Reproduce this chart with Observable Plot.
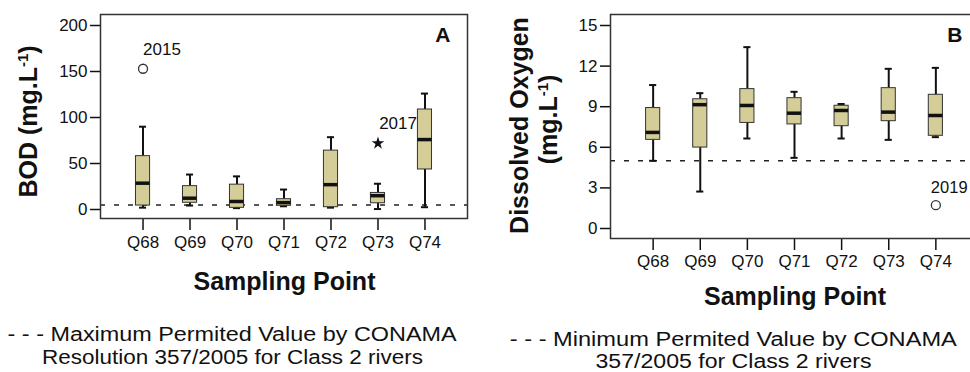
<!DOCTYPE html>
<html><head><meta charset="utf-8">
<script src="https://cdn.jsdelivr.net/npm/d3@7"></script>
<script src="https://cdn.jsdelivr.net/npm/@observablehq/plot@0.6"></script>
<style>
html,body{margin:0;padding:0;background:#fff;overflow:hidden;width:970px;height:372px;}
#root{position:relative;width:970px;height:372px;overflow:hidden;font-family:"Liberation Sans",Arial,sans-serif;color:#111;}
.abs{position:absolute;white-space:nowrap;}
.title{font-weight:bold;font-size:25px;line-height:25px;text-align:center;}
.rot{transform:rotate(-90deg);transform-origin:center center;}
.leg{font-size:20px;line-height:20px;text-align:center;}
.leg span{display:inline-block;transform-origin:center center;}
sup{font-size:0.6em;line-height:0;vertical-align:0.6em;}
</style></head><body><div id="root"></div>
<script>
// ---- data ----
const sites = ["Q68", "Q69", "Q70", "Q71", "Q72", "Q73", "Q74"];

// Panel A: BOD (mg/L)
const bodMin = [2, 4.3, 1.5, 3.5, 2, 0.5, 2.5];
const bodQ1  = [4.3, 7.3, 1.8, 4, 2.5, 6.8, 43.5];
const bodMed = [28.6, 12.3, 8.7, 7.5, 27, 15, 76];
const bodQ3  = [58, 25.4, 27, 11.2, 64, 18, 108.7];
const bodMax = [90, 38, 36, 21.7, 78.6, 28, 126];
const bodTicks = [0, 50, 100, 150, 200];
const bodLimit = 5;
const bodOutSite = ["Q68", "Q73"];
const bodOutValue = [153, 72];
const bodOutLabel = ["2015", "2017"];

// Panel B: Dissolved oxygen (mg/L)
const doMin = [5.0, 2.73, 6.65, 5.22, 6.65, 6.55, 6.75];
const doQ1  = [6.55, 5.98, 7.8, 7.69, 7.56, 7.93, 6.85];
const doMed = [7.1, 9.15, 9.09, 8.52, 8.72, 8.6, 8.35];
const doQ3  = [8.9, 9.55, 10.3, 9.63, 9.07, 10.37, 9.88];
const doMax = [10.6, 10.0, 13.4, 10.1, 9.2, 11.8, 11.87];
const doTicks = [0, 3, 6, 9, 12, 15];
const doLimit = 5;
const doOutSite = ["Q74"];
const doOutValue = [1.72];
const doOutLabel = ["2019"];

// ---- build tables ----
const bodRows = sites.map((s, i) => ({site: s, min: bodMin[i], q1: bodQ1[i], med: bodMed[i], q3: bodQ3[i], max: bodMax[i]}));
const doRows = sites.map((s, i) => ({site: s, min: doMin[i], q1: doQ1[i], med: doMed[i], q3: doQ3[i], max: doMax[i]}));
const bodOut = bodOutSite.map((s, i) => ({site: s, value: bodOutValue[i], label: bodOutLabel[i]}));
const doOut = doOutSite.map((s, i) => ({site: s, value: doOutValue[i], label: doOutLabel[i]}));

const FONT = '"Liberation Sans", Arial, sans-serif';
const BOX = "#d5cd98";

function boxMarks(rows) {
  return [
    Plot.ruleX(rows, {x: "site", y1: "min", y2: "q1", stroke: "#111", strokeWidth: 2}),
    Plot.ruleX(rows, {x: "site", y1: "q3", y2: "max", stroke: "#111", strokeWidth: 2}),
    Plot.tickY(rows, {x: "site", y: "min", stroke: "#111", strokeWidth: 2, inset: 3.5}),
    Plot.tickY(rows, {x: "site", y: "max", stroke: "#111", strokeWidth: 2, inset: 3.5}),
    Plot.barY(rows, {x: "site", y1: "q1", y2: "q3", fill: BOX, stroke: "#333", strokeWidth: 1}),
    Plot.tickY(rows, {x: "site", y: "med", stroke: "#111", strokeWidth: 3.5})
  ];
}

const xOpts = {type: "band", domain: sites, paddingInner: 0.70, paddingOuter: 0.755, round: false, label: null};

const plotA = Plot.plot({
  width: 490, height: 260,
  marginLeft: 100, marginRight: 23, marginTop: 14, marginBottom: 42,
  style: {fontFamily: FONT, fontSize: "17px", color: "#111", background: "transparent", overflow: "visible"},
  x: xOpts,
  y: {domain: [-9.78, 211.96], label: null},
  marks: [
    Plot.axisY({ticks: bodTicks, tickSize: 10, tickPadding: 3, label: null, strokeWidth: 1.5}),
    Plot.axisX({tickSize: 12, tickPadding: 5, label: null, strokeWidth: 1.5}),
    Plot.ruleY([bodLimit], {stroke: "#222", strokeWidth: 1.5, strokeDasharray: "5,9"}),
    ...boxMarks(bodRows),
    Plot.dot(bodOut.filter(d => d.label === "2015"), {x: "site", y: "value", r: 4.5, stroke: "#333", strokeWidth: 1.3, fill: "white"}),
    Plot.dot(bodOut.filter(d => d.label === "2017"), {x: "site", y: "value", r: 4, symbol: "star", fill: "#111", stroke: "none"}),
    Plot.text(bodOut.filter(d => d.label === "2015"), {x: "site", y: "value", text: "label", textAnchor: "start", dx: 0, dy: -19, fontSize: 17, fill: "#111"}),
    Plot.text(bodOut.filter(d => d.label === "2017"), {x: "site", y: "value", text: "label", textAnchor: "end", dx: 39, dy: -20, fontSize: 17, fill: "#111"}),
    Plot.text(["A"], {frameAnchor: "top-right", dx: -17, dy: 13, fontSize: 21, fontWeight: "bold", fill: "#111"}),
    Plot.frame({stroke: "#333", strokeWidth: 1.5})
  ]
});

const plotB = Plot.plot({
  width: 511, height: 270,
  marginLeft: 120, marginRight: 23, marginTop: 14, marginBottom: 32,
  style: {fontFamily: FONT, fontSize: "17px", color: "#111", background: "transparent", overflow: "visible"},
  x: xOpts,
  y: {domain: [-0.739, 15.813], label: null},
  marks: [
    Plot.axisY({ticks: doTicks, tickSize: 10, tickPadding: 3, label: null, strokeWidth: 1.5}),
    Plot.axisX({tickSize: 12, tickPadding: 4, label: null, strokeWidth: 1.5}),
    Plot.ruleY([doLimit], {stroke: "#222", strokeWidth: 1.5, strokeDasharray: "5,9"}),
    ...boxMarks(doRows),
    Plot.dot(doOut, {x: "site", y: "value", r: 4.5, stroke: "#333", strokeWidth: 1.3, fill: "white"}),
    Plot.text(doOut, {x: "site", y: "value", text: "label", textAnchor: "start", dx: -5, dy: -18, fontSize: 16.5, fill: "#111"}),
    Plot.text(["B"], {frameAnchor: "top-right", dx: -16, dy: 13, fontSize: 21, fontWeight: "bold", fill: "#111"}),
    Plot.frame({stroke: "#333", strokeWidth: 1.5})
  ]
});

const root = document.getElementById("root");
function place(el, left, top) {
  el.style.position = "absolute";
  el.style.left = left + "px";
  el.style.top = top + "px";
  root.appendChild(el);
}
place(plotA, 0, 0);
place(plotB, 490, 0);

function addText(html, cls, cx, cy, w, lh) {
  const d = document.createElement("div");
  d.className = "abs " + cls;
  d.innerHTML = html;
  d.style.width = w + "px";
  d.style.left = (cx - w / 2) + "px";
  d.style.top = (cy - lh / 2) + "px";
  d.style.height = lh + "px";
  root.appendChild(d);
  return d;
}

// axis titles
addText("BOD (mg.L<sup>-1</sup>)", "title rot", 27.5, 121.5, 260, 25);
addText("Dissolved Oxygen", "title rot", 519, 125, 260, 25);
addText("(mg.L<sup>-1</sup>)", "title rot", 548, 119, 160, 25);
addText("Sampling Point", "title", 284.5, 281, 300, 25);
addText("Sampling Point", "title", 795, 296, 300, 25);

// legends (stretched horizontally to the reference's text widths)
function legendLine(txt, cx, cy, targetW) {
  const d = addText("<span></span>", "leg", cx, cy, 500, 20);
  const s = d.querySelector("span");
  s.textContent = txt;
  const w = s.getBoundingClientRect().width;
  s.style.transform = "scaleX(" + (targetW / w) + ")";
}
legendLine("- - - Maximum Permited Value by CONAMA", 232.5, 334, 449);
legendLine("Resolution 357/2005 for Class 2 rivers", 232.5, 357, 381);
legendLine("- - - Minimum Permited Value by CONAMA", 733.5, 339, 447);
legendLine("357/2005 for Class 2 rivers", 733.5, 361, 276);
</script>
</body></html>
